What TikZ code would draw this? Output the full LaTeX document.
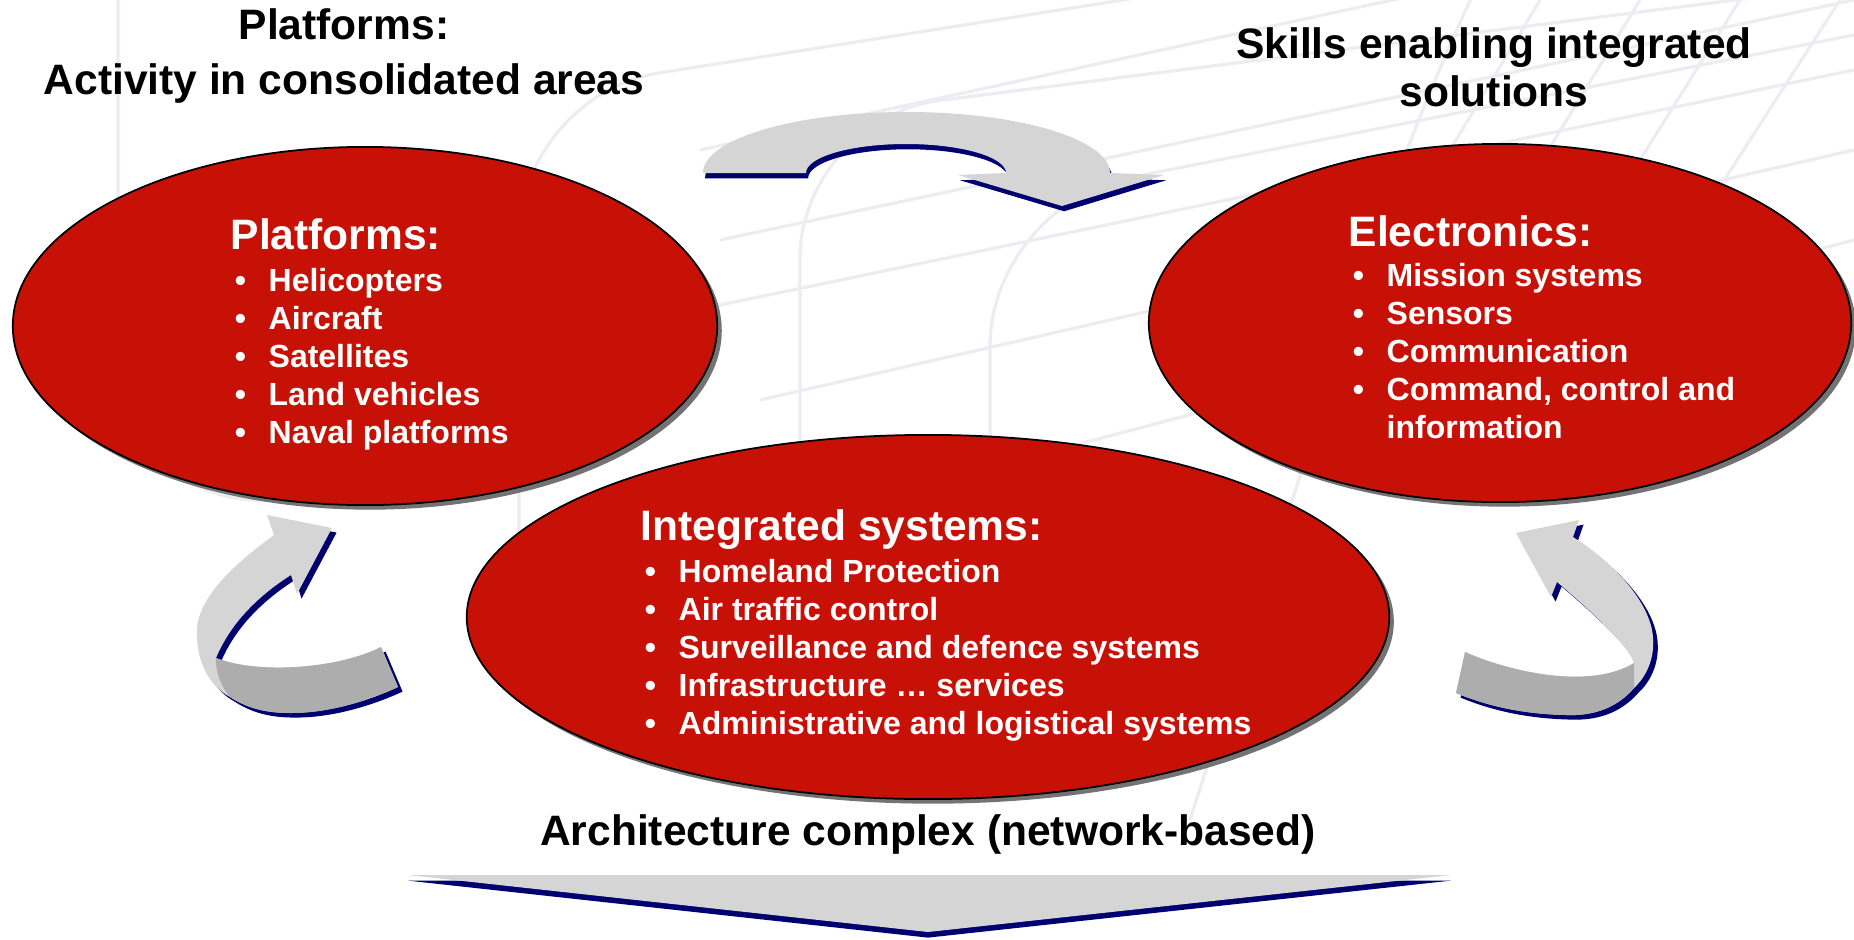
\documentclass[tikz,border=0pt]{standalone}
\usepackage{fontspec}
\setmainfont{Liberation Sans}
\usetikzlibrary{shapes.geometric,shadows}

\definecolor{ovalred}{RGB}{200,17,6}
\definecolor{arrowgray}{RGB}{213,213,213}
\definecolor{foldgray}{RGB}{173,173,173}
\definecolor{navyshadow}{RGB}{0,0,112}
\definecolor{gridgray}{RGB}{236,236,242}

\newcommand{\headsize}{\fontsize{12.1}{15.6}\selectfont}
\newcommand{\itemsize}{\fontsize{9.1}{10.8}\selectfont}
\newcommand{\bul}{\makebox[10.8pt][l]{\hspace{1.2pt}\textbullet}}

\begin{document}
\begin{tikzpicture}[x=0.01cm, y=-0.01cm,
  oval/.style={ellipse, draw=black, line width=0.5pt, fill=ovalred, inner sep=0pt,
    drop shadow={shadow xshift=1.3pt, shadow yshift=-1.3pt, fill=black!55, opacity=1}},
  listtext/.style={anchor=north west, align=left, text=white, inner sep=0pt, font=\itemsize\bfseries},
  titletext/.style={align=center, inner sep=0pt, font=\headsize\bfseries},
  gridline/.style={draw=gridgray, line width=0.9pt, rounded corners=40},
  bentarrow/.style={fill=arrowgray, preaction={fill=navyshadow, transform canvas={xshift=1.3pt, yshift=-1.3pt}}},
  fold/.style={fill=foldgray}]
  \useasboundingbox (0,0) rectangle (1854,939);
  \fill[white] (0,0) rectangle (1854,939);

  % faint grid in the background
  \draw[gridline] (118,0) -- (118,500) -- (400,500);
  \draw[gridline] (519,640) -- (519,95) -- (1250,-20);
  \draw[gridline] (800,440) -- (800,118) -- (1854,-15);
  \draw[gridline] (990,440) -- (990,205) -- (1854,35);
  \draw[gridline] (700,150) -- (1854,-100);
  \draw[gridline] (720,240) -- (1854,0);
  \draw[gridline] (715,306) -- (1854,70);
  \draw[gridline] (760,400) -- (1854,150);
  \draw[gridline] (980,470) -- (1854,240);
  \draw[gridline] (1190,820) -- (1420,100) -- (1470,0);
  \draw[gridline] (1300,400) -- (1540,0);
  \draw[gridline] (1420,360) -- (1640,0);
  \draw[gridline] (1540,320) -- (1740,0);
  \draw[gridline] (1660,280) -- (1840,0);

  % titles
  \node[titletext] (plattitle) at (344,56) {Platforms:\\Activity in consolidated areas};
  \node[titletext] (skilltitle) at (1494,67) {Skills enabling integrated\\[-1.9pt]solutions};
  \node[titletext] (archtitle) at (928,834) {Architecture complex (network-based)};

  % ovals
  \node[oval, minimum width=7.04cm, minimum height=3.58cm] (platoval) at (365,326) {};
  \node[oval, minimum width=7.02cm, minimum height=3.58cm] (elecoval) at (1500,323) {};
  \node[oval, minimum width=9.22cm, minimum height=3.64cm] (intoval) at (928,617) {};

  \node[listtext] (platlist) at (230,218) {{\headsize Platforms:}\\[1.2pt]
    \bul Helicopters\\
    \bul Aircraft\\
    \bul Satellites\\
    \bul Land vehicles\\
    \bul Naval platforms};
  \node[listtext] (eleclist) at (1348,215) {{\headsize Electronics:}\\[0.6pt]
    \bul Mission systems\\
    \bul Sensors\\
    \bul Communication\\
    \bul Command, control and\\
    \hspace*{10.8pt}information};
  \node[listtext] (intlist) at (640,509) {{\headsize Integrated systems:}\\[1.2pt]
    \bul Homeland Protection\\
    \bul Air traffic control\\
    \bul Surveillance and defence systems\\
    \bul Infrastructure … services\\
    \bul Administrative and logistical systems};

  % top arrow
  \fill[fill=arrowgray, preaction={fill=navyshadow, transform canvas={xshift=0.6pt, yshift=-1.5pt}}]
    (703,173) arc[start angle=180, end angle=360, x radius=203.5, y radius=61]
    -- (1164,175) -- (1062,206) -- (958,175) -- (1006,173)
    arc[start angle=360, end angle=180, x radius=100, y radius=29] -- cycle;

  % left arrow
  \fill[bentarrow] (332,528) -- (267,515) -- (274,535)
    .. controls (240,560) and (198,595) .. (197,630)
    .. controls (196,660) and (208,685) .. (230,697)
    .. controls (250,710) and (270,713) .. (291,713)
    .. controls (330,713) and (370,700) .. (398,687)
    -- (381,647)
    .. controls (340,668) and (260,675) .. (216,658)
    .. controls (230,625) and (255,598) .. (291,575)
    -- (297,594) -- cycle;
  \fill[fold] (216,658) .. controls (260,675) and (340,668) .. (381,647)
    -- (398,687)
    .. controls (370,700) and (330,713) .. (291,713)
    .. controls (270,713) and (250,710) .. (230,697)
    .. controls (222,688) and (215,672) .. (216,658) -- cycle;

  % right arrow
  \fill[bentarrow] (1516,533) -- (1579,520) -- (1573,537)
    .. controls (1610,560) and (1650,600) .. (1653,637)
    .. controls (1655,660) and (1645,678) .. (1634,688)
    .. controls (1615,710) and (1590,716) .. (1566,715)
    .. controls (1520,714) and (1485,705) .. (1456,693)
    -- (1465,652)
    .. controls (1510,672) and (1590,690) .. (1634,663)
    .. controls (1628,645) and (1590,610) .. (1557,582)
    -- (1551,597) -- cycle;
  \fill[fold] (1465,652) .. controls (1510,672) and (1590,690) .. (1634,663)
    -- (1634,688)
    .. controls (1615,710) and (1590,716) .. (1566,715)
    .. controls (1520,714) and (1485,705) .. (1456,693) -- cycle;

  % bottom arrow
  \fill[fill=arrowgray, preaction={fill=navyshadow, transform canvas={yshift=-1.6pt}}]
    (408,875) -- (1451,875) -- (928,932) -- cycle;
\end{tikzpicture}
\end{document}
